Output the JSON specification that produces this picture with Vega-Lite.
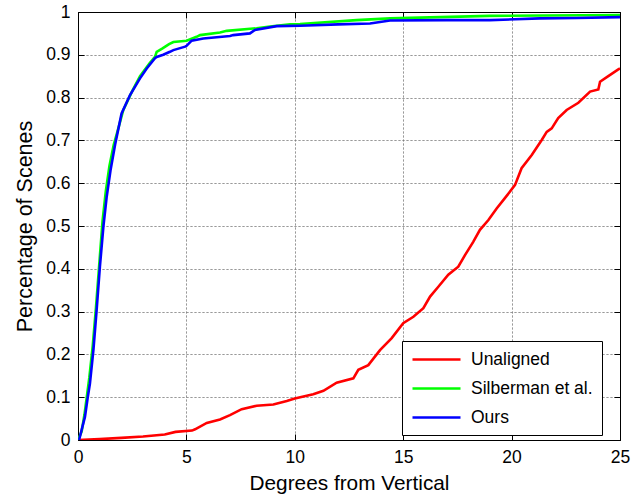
{
  "$schema": "https://vega.github.io/schema/vega-lite/v6.json",
  "width": 542,
  "height": 428,
  "autosize": {"type": "none"},
  "padding": {"left": 78, "top": 12, "right": 22, "bottom": 58},
  "background": "white",
  "datasets": {
    "curves": [
      {"s": "Unaligned", "x": 0, "y": 0}, {"s": "Unaligned", "x": 1, "y": 0.002}, {"s": "Unaligned", "x": 2, "y": 0.005}, {"s": "Unaligned", "x": 3, "y": 0.008}, {"s": "Unaligned", "x": 4, "y": 0.013}, {"s": "Unaligned", "x": 4.5, "y": 0.019}, {"s": "Unaligned", "x": 5.26, "y": 0.022}, {"s": "Unaligned", "x": 5.4, "y": 0.025}, {"s": "Unaligned", "x": 5.94, "y": 0.040}, {"s": "Unaligned", "x": 6.55, "y": 0.048}, {"s": "Unaligned", "x": 7.01, "y": 0.058}, {"s": "Unaligned", "x": 7.55, "y": 0.072}, {"s": "Unaligned", "x": 8.24, "y": 0.080}, {"s": "Unaligned", "x": 9.01, "y": 0.083}, {"s": "Unaligned", "x": 9.63, "y": 0.091}, {"s": "Unaligned", "x": 10.0, "y": 0.097}, {"s": "Unaligned", "x": 10.85, "y": 0.107}, {"s": "Unaligned", "x": 11.32, "y": 0.115}, {"s": "Unaligned", "x": 11.93, "y": 0.134}, {"s": "Unaligned", "x": 12.7, "y": 0.144}, {"s": "Unaligned", "x": 12.93, "y": 0.164}, {"s": "Unaligned", "x": 13.39, "y": 0.175}, {"s": "Unaligned", "x": 13.93, "y": 0.210}, {"s": "Unaligned", "x": 14.47, "y": 0.238}, {"s": "Unaligned", "x": 15.0, "y": 0.273}, {"s": "Unaligned", "x": 15.47, "y": 0.288}, {"s": "Unaligned", "x": 15.93, "y": 0.308}, {"s": "Unaligned", "x": 16.24, "y": 0.335}, {"s": "Unaligned", "x": 16.62, "y": 0.358}, {"s": "Unaligned", "x": 17.08, "y": 0.386}, {"s": "Unaligned", "x": 17.54, "y": 0.405}, {"s": "Unaligned", "x": 17.85, "y": 0.432}, {"s": "Unaligned", "x": 18.23, "y": 0.463}, {"s": "Unaligned", "x": 18.54, "y": 0.491}, {"s": "Unaligned", "x": 18.93, "y": 0.514}, {"s": "Unaligned", "x": 19.31, "y": 0.541}, {"s": "Unaligned", "x": 19.69, "y": 0.565}, {"s": "Unaligned", "x": 20.16, "y": 0.596}, {"s": "Unaligned", "x": 20.46, "y": 0.635}, {"s": "Unaligned", "x": 20.93, "y": 0.666}, {"s": "Unaligned", "x": 21.39, "y": 0.701}, {"s": "Unaligned", "x": 21.62, "y": 0.720}, {"s": "Unaligned", "x": 21.85, "y": 0.728}, {"s": "Unaligned", "x": 22.15, "y": 0.752}, {"s": "Unaligned", "x": 22.54, "y": 0.771}, {"s": "Unaligned", "x": 23.08, "y": 0.788}, {"s": "Unaligned", "x": 23.62, "y": 0.814}, {"s": "Unaligned", "x": 24.0, "y": 0.819}, {"s": "Unaligned", "x": 24.08, "y": 0.837}, {"s": "Unaligned", "x": 24.46, "y": 0.850}, {"s": "Unaligned", "x": 24.92, "y": 0.866}, {"s": "Unaligned", "x": 25, "y": 0.868},

      {"s": "Silberman et al.", "x": 0, "y": 0}, {"s": "Silberman et al.", "x": 0.17, "y": 0.02}, {"s": "Silberman et al.", "x": 0.3, "y": 0.06}, {"s": "Silberman et al.", "x": 0.52, "y": 0.145}, {"s": "Silberman et al.", "x": 0.68, "y": 0.22}, {"s": "Silberman et al.", "x": 0.83, "y": 0.31}, {"s": "Silberman et al.", "x": 0.98, "y": 0.41}, {"s": "Silberman et al.", "x": 1.13, "y": 0.51}, {"s": "Silberman et al.", "x": 1.28, "y": 0.58}, {"s": "Silberman et al.", "x": 1.45, "y": 0.64}, {"s": "Silberman et al.", "x": 1.65, "y": 0.69}, {"s": "Silberman et al.", "x": 1.8, "y": 0.717}, {"s": "Silberman et al.", "x": 2.09, "y": 0.771}, {"s": "Silberman et al.", "x": 2.5, "y": 0.815}, {"s": "Silberman et al.", "x": 2.86, "y": 0.850}, {"s": "Silberman et al.", "x": 3.3, "y": 0.88}, {"s": "Silberman et al.", "x": 3.55, "y": 0.895}, {"s": "Silberman et al.", "x": 3.63, "y": 0.907}, {"s": "Silberman et al.", "x": 3.9, "y": 0.915}, {"s": "Silberman et al.", "x": 4.2, "y": 0.925}, {"s": "Silberman et al.", "x": 4.4, "y": 0.930}, {"s": "Silberman et al.", "x": 5.01, "y": 0.933}, {"s": "Silberman et al.", "x": 5.47, "y": 0.942}, {"s": "Silberman et al.", "x": 5.63, "y": 0.946}, {"s": "Silberman et al.", "x": 6.55, "y": 0.952}, {"s": "Silberman et al.", "x": 6.86, "y": 0.956}, {"s": "Silberman et al.", "x": 8.24, "y": 0.962}, {"s": "Silberman et al.", "x": 8.86, "y": 0.966}, {"s": "Silberman et al.", "x": 9.78, "y": 0.971}, {"s": "Silberman et al.", "x": 10.24, "y": 0.972}, {"s": "Silberman et al.", "x": 12.85, "y": 0.981}, {"s": "Silberman et al.", "x": 14.39, "y": 0.985}, {"s": "Silberman et al.", "x": 19, "y": 0.991}, {"s": "Silberman et al.", "x": 25, "y": 0.993},

      {"s": "Ours", "x": 0.05, "y": 0}, {"s": "Ours", "x": 0.2, "y": 0.03}, {"s": "Ours", "x": 0.32, "y": 0.054}, {"s": "Ours", "x": 0.45, "y": 0.10}, {"s": "Ours", "x": 0.55, "y": 0.132}, {"s": "Ours", "x": 0.71, "y": 0.21}, {"s": "Ours", "x": 0.86, "y": 0.304}, {"s": "Ours", "x": 1.01, "y": 0.405}, {"s": "Ours", "x": 1.17, "y": 0.498}, {"s": "Ours", "x": 1.32, "y": 0.567}, {"s": "Ours", "x": 1.5, "y": 0.63}, {"s": "Ours", "x": 1.71, "y": 0.69}, {"s": "Ours", "x": 2.01, "y": 0.763}, {"s": "Ours", "x": 2.4, "y": 0.806}, {"s": "Ours", "x": 2.86, "y": 0.845}, {"s": "Ours", "x": 3.17, "y": 0.868}, {"s": "Ours", "x": 3.55, "y": 0.892}, {"s": "Ours", "x": 3.63, "y": 0.895}, {"s": "Ours", "x": 3.93, "y": 0.900}, {"s": "Ours", "x": 4.24, "y": 0.907}, {"s": "Ours", "x": 4.4, "y": 0.911}, {"s": "Ours", "x": 4.94, "y": 0.919}, {"s": "Ours", "x": 5.01, "y": 0.921}, {"s": "Ours", "x": 5.24, "y": 0.933}, {"s": "Ours", "x": 5.78, "y": 0.938}, {"s": "Ours", "x": 7.01, "y": 0.944}, {"s": "Ours", "x": 7.16, "y": 0.946}, {"s": "Ours", "x": 7.93, "y": 0.950}, {"s": "Ours", "x": 8.16, "y": 0.958}, {"s": "Ours", "x": 9.16, "y": 0.967}, {"s": "Ours", "x": 10.24, "y": 0.968}, {"s": "Ours", "x": 12, "y": 0.971}, {"s": "Ours", "x": 13.47, "y": 0.973}, {"s": "Ours", "x": 14.39, "y": 0.980}, {"s": "Ours", "x": 17, "y": 0.981}, {"s": "Ours", "x": 19, "y": 0.981}, {"s": "Ours", "x": 21.3, "y": 0.985}, {"s": "Ours", "x": 23, "y": 0.986}, {"s": "Ours", "x": 25, "y": 0.988}
    ]
  },
  "data": {"name": "curves"},
  "layer": [
    {
      "mark": {"type": "line", "strokeWidth": 2.6, "clip": true},
      "encoding": {
        "x": {
          "field": "x", "type": "quantitative",
          "scale": {"domain": [0, 25], "nice": false, "zero": false},
          "axis": {"orient": "bottom", "values": [0, 5, 10, 15, 20, 25], "title": "Degrees from Vertical", "grid": true, "tickSize": -6, "labelPadding": 14, "titlePadding": 8, "labelFlush": false}
        },
        "y": {
          "field": "y", "type": "quantitative",
          "scale": {"domain": [0, 1], "nice": false},
          "axis": {"orient": "left", "values": [0, 0.1, 0.2, 0.3, 0.4, 0.5, 0.6, 0.7, 0.8, 0.9, 1], "format": "~g", "title": "Percentage of Scenes", "titleFontSize": 21.5, "grid": true, "tickSize": -6, "labelPadding": 14, "titlePadding": 9, "labelFlush": false}
        },
        "color": {
          "field": "s", "type": "nominal",
          "scale": {"domain": ["Unaligned", "Silberman et al.", "Ours"], "range": ["#ff0000", "#00ff00", "#0000ff"]},
          "legend": {
            "title": null, "orient": "none", "legendX": 324, "legendY": 329,
            "strokeColor": "black", "fillColor": "white", "padding": 9,
            "symbolType": "M-1,0H5", "symbolSize": 256, "symbolStrokeWidth": 2.5,
            "labelFontSize": 17.5, "labelFont": "Liberation Sans", "labelColor": "black",
            "labelOffset": 41, "rowPadding": 11, "columnPadding": 0, "labelLimit": 300
          }
        }
      }
    },
    {
      "mark": {"type": "line", "opacity": 0},
      "encoding": {
        "x": {
          "field": "x", "type": "quantitative",
          "scale": {"domain": [0, 25], "nice": false, "zero": false},
          "axis": {"orient": "top", "values": [0, 5, 10, 15, 20, 25], "labels": false, "title": null, "grid": true, "tickSize": -6}
        },
        "y": {
          "field": "y", "type": "quantitative",
          "scale": {"domain": [0, 1], "nice": false},
          "axis": {"orient": "right", "values": [0, 0.1, 0.2, 0.3, 0.4, 0.5, 0.6, 0.7, 0.8, 0.9, 1], "labels": false, "title": null, "grid": true, "tickSize": -6}
        },
        "detail": {"field": "s", "type": "nominal"}
      }
    }
  ],
  "resolve": {"axis": {"x": "independent", "y": "independent"}},
  "config": {
    "view": {"stroke": "black", "strokeWidth": 1},
    "axis": {
      "domainColor": "black", "domainWidth": 1, "tickColor": "black", "tickWidth": 1,
      "labelColor": "black", "titleColor": "black",
      "labelFont": "Liberation Sans", "titleFont": "Liberation Sans",
      "labelFontSize": 17.5, "titleFontSize": 20.8, "titleFontWeight": "normal",
      "gridColor": "#777777", "gridDash": [1, 3], "gridOpacity": 1, "gridWidth": 1
    }
  }
}
